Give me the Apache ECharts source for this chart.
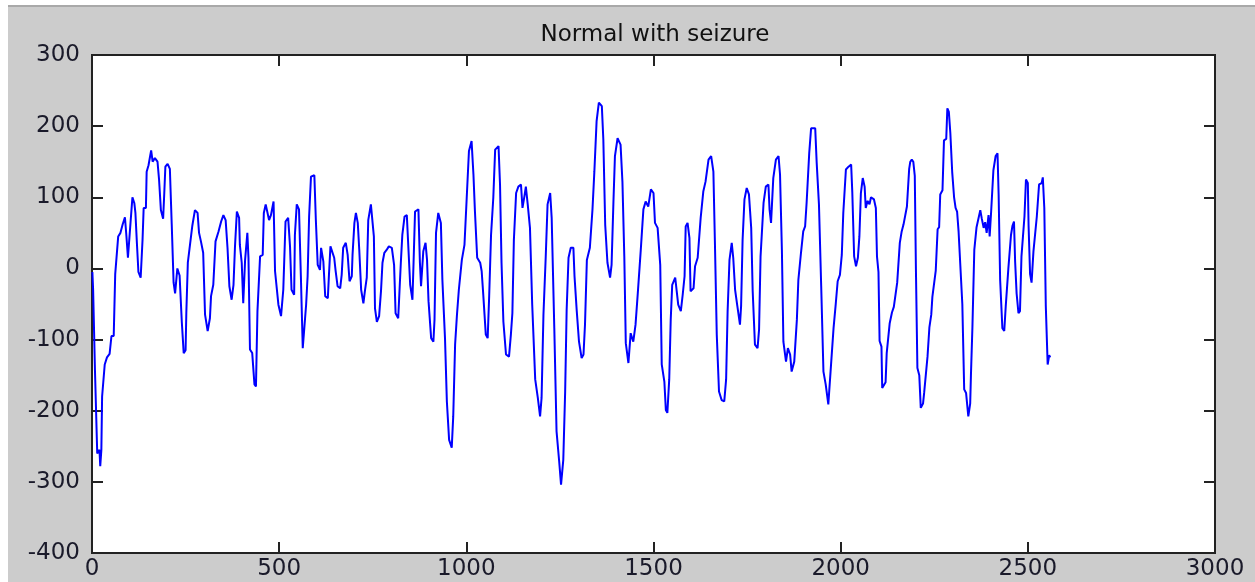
<!DOCTYPE html>
<html>
<head>
<meta charset="utf-8">
<script src="https://cdn.jsdelivr.net/npm/echarts@6/dist/echarts.min.js"></script>
<style>
html,body{margin:0;padding:0;background:#fff;}
#chart{width:1255px;height:582px;}
</style>
</head>
<body>
<div id="chart"></div>
<script>
// Sample positions (x) and amplitudes (y)
var sampleIndex = [1,3,8,12,14,20,22,25,27,32,34,40,47,52,58,62,67,70,76,82,88,92,96,100,103,108,113,116,120,124,130,135,138,144,146,151,155,158,162,168,175,179,184,190,193,196,202,208,213,218,222,228,234,240,245,250,252,256,268,275,282,286,291,297,302,309,315,318,324,330,338,345,351,357,362,367,373,378,382,387,393,395,400,404,409,415,418,422,428,434,438,442,449,456,459,464,469,473,478,485,489,498,505,511,517,524,529,533,540,542,547,553,558,563,567,572,576,580,585,594,598,603,609,612,618,623,630,633,637,642,647,651,656,663,667,671,678,683,688,694,696,701,705,710,714,719,725,729,734,738,745,749,753,756,761,767,772,776,781,787,793,801,807,811,818,825,829,835,841,845,850,856,859,863,872,876,879,885,891,895,899,906,912,915,919,925,932,936,943,948,954,961,965,970,975,980,988,995,1001,1007,1014,1019,1023,1029,1037,1041,1045,1052,1057,1061,1066,1072,1077,1086,1090,1094,1099,1106,1114,1119,1123,1127,1133,1139,1146,1150,1155,1159,1164,1170,1176,1184,1191,1197,1201,1206,1212,1217,1224,1228,1235,1241,1248,1253,1259,1264,1268,1273,1279,1286,1289,1295,1301,1308,1313,1317,1322,1330,1337,1342,1348,1354,1362,1366,1371,1377,1384,1388,1393,1397,1404,1412,1417,1422,1426,1433,1439,1446,1452,1458,1466,1473,1479,1486,1493,1500,1504,1511,1518,1522,1529,1533,1537,1542,1546,1550,1558,1562,1566,1573,1578,1583,1586,1591,1596,1599,1607,1611,1618,1626,1633,1639,1647,1654,1660,1664,1669,1675,1682,1689,1694,1698,1703,1709,1713,1718,1724,1731,1734,1738,1743,1749,1755,1761,1765,1771,1778,1782,1786,1794,1800,1807,1810,1814,1820,1827,1834,1838,1843,1847,1854,1859,1865,1869,1876,1883,1887,1894,1900,1905,1909,1916,1921,1932,1936,1942,1948,1954,1960,1967,1973,1981,1987,1992,1998,2003,2007,2014,2021,2028,2031,2036,2041,2046,2050,2054,2059,2064,2067,2072,2077,2081,2085,2089,2094,2097,2101,2104,2109,2111,2116,2120,2123,2127,2131,2137,2142,2147,2151,2155,2158,2163,2168,2173,2177,2180,2183,2186,2190,2194,2198,2201,2205,2210,2214,2220,2223,2228,2232,2237,2242,2245,2250,2254,2259,2263,2266,2272,2276,2282,2285,2289,2293,2298,2303,2307,2311,2315,2320,2325,2330,2335,2341,2346,2348,2352,2357,2363,2368,2373,2377,2382,2386,2390,2395,2398,2402,2408,2414,2419,2422,2426,2432,2437,2441,2446,2448,2455,2459,2463,2466,2470,2475,2479,2483,2491,2495,2500,2502,2506,2510,2515,2520,2524,2530,2537,2540,2544,2548,2553,2557,2560];
var amplitude = [-5,-30,-145,-145,-260,-255,-278,-255,-180,-180,-135,-125,-120,-95,-95,-8,-8,45,50,62,72,45,15,15,65,100,92,78,35,-5,-13,40,85,85,136,145,157,166,150,155,150,126,82,70,105,143,147,140,62,-20,-35,0,-10,-76,-119,-115,-62,8,60,82,78,50,38,22,-65,-88,-70,-39,-23,38,52,66,75,68,29,-25,-44,-23,31,80,71,33,8,-49,12,50,15,-114,-119,-163,-166,-60,17,19,78,90,92,68,75,94,-4,-51,-67,-30,66,71,31,-30,-37,47,90,83,-11,-112,-110,-51,-11,73,129,131,68,5,-2,29,10,-39,-42,-9,31,29,15,-4,-25,-28,-9,29,36,19,-18,-11,19,64,78,64,26,-30,-49,-32,-13,68,90,90,45,-56,-75,-67,-32,8,22,26,31,29,5,-63,-70,8,47,73,75,31,-23,-44,8,80,83,8,-25,24,36,12,-46,-98,-103,-72,50,78,64,-16,-98,-187,-241,-252,-208,-107,-65,-30,12,33,99,165,179,132,80,15,8,-4,-35,-93,-98,-39,47,99,167,172,118,8,-75,-121,-124,-93,-63,40,106,115,118,85,101,115,90,57,-51,-156,-182,-208,-182,-65,15,90,106,71,-84,-229,-271,-304,-269,-173,-58,15,29,29,-11,-60,-103,-126,-121,-79,12,29,83,136,207,233,228,181,61,8,-13,5,94,158,183,174,122,17,-105,-133,-91,-103,-79,-35,26,83,94,87,111,106,64,57,5,-135,-159,-199,-203,-156,-72,-23,-13,-32,-51,-60,-37,-11,59,64,43,-32,-28,3,15,71,108,122,153,158,136,38,-93,-173,-185,-187,-156,-60,12,36,15,-30,-53,-79,-53,40,97,113,104,57,-32,-107,-112,-86,17,92,115,118,83,64,127,153,158,132,26,-103,-131,-112,-121,-145,-131,-72,-16,22,52,59,92,162,197,197,148,90,-25,-145,-163,-191,-145,-84,-49,-18,-9,19,78,139,143,146,108,17,3,15,45,106,127,115,85,95,90,100,102,97,85,17,-5,-102,-110,-168,-170,-160,-119,-120,-77,-62,-54,-35,-20,-20,36,52,62,60,87,87,140,150,153,150,130,0,-140,-150,-196,-190,-175,-175,-124,-83,-65,-40,-40,-3,55,58,104,110,180,182,225,220,190,135,100,85,80,52,52,-50,-170,-175,-208,-190,-150,-82,26,58,58,82,70,57,65,50,75,45,80,138,158,162,104,-16,-84,-88,-53,-53,0,47,60,66,10,-35,-63,-60,17,73,125,120,60,-8,-20,24,24,73,118,120,128,85,-53,-135,-122,-125];
var xTicks = [0, 500, 1000, 1500, 2000, 2500, 3000];
var yTicks = [-400, -300, -200, -100, 0, 100, 200, 300];
var chartTitle = 'Normal with seizure';

var seriesData = sampleIndex.map(function (s, i) { return [s, amplitude[i]]; });

var chart = echarts.init(document.getElementById('chart'), null, {renderer: 'canvas'});
var labelFont = {color: '#1a1a2a', fontSize: 23, fontFamily: 'DejaVu Sans'};
var plain = function (v) { return String(v); };
function axisCommon() {
  return {
    axisLine: {show: true, onZero: false, lineStyle: {color: '#222', width: 2}},
    axisTick: {show: true, inside: true, length: 11, lineStyle: {color: '#222', width: 2}},
    splitLine: {show: false}
  };
}
var option = {
  backgroundColor: '#cccccc',
  animation: false,
  title: {
    text: chartTitle,
    left: 650, top: 19, textAlign: 'center',
    textStyle: {color: '#111', fontSize: 23, fontWeight: 'normal', fontFamily: 'DejaVu Sans'}
  },
  graphic: [
    {type: 'rect', shape: {x: 0, y: 0, width: 1255, height: 5}, style: {fill: '#ffffff'}, silent: true},
    {type: 'rect', shape: {x: 0, y: 0, width: 8, height: 582}, style: {fill: '#ffffff'}, silent: true},
    {type: 'rect', shape: {x: 8, y: 5, width: 1247, height: 2}, style: {fill: '#a9a9a9'}, silent: true}
  ],
  grid: {left: 92, top: 55, width: 1123, height: 498, show: true, backgroundColor: '#ffffff', borderColor: '#222', borderWidth: 2},
  xAxis: [
    Object.assign(axisCommon(), {
      type: 'value', position: 'bottom', min: xTicks[0], max: xTicks[xTicks.length - 1], interval: 500,
      axisLabel: Object.assign({margin: 5, formatter: plain}, labelFont)
    }),
    Object.assign(axisCommon(), {
      type: 'value', position: 'top', min: xTicks[0], max: xTicks[xTicks.length - 1], interval: 500,
      axisLabel: {show: false}
    })
  ],
  yAxis: [
    Object.assign(axisCommon(), {
      type: 'value', position: 'left', min: yTicks[0], max: yTicks[yTicks.length - 1], interval: 100,
      axisLabel: Object.assign({margin: 12, formatter: plain}, labelFont)
    }),
    Object.assign(axisCommon(), {
      type: 'value', position: 'right', min: yTicks[0], max: yTicks[yTicks.length - 1], interval: 100,
      axisLabel: {show: false}
    })
  ],
  series: [{
    type: 'line', data: seriesData, xAxisIndex: 0, yAxisIndex: 0,
    showSymbol: false, symbol: 'none',
    lineStyle: {color: '#0000ff', width: 2},
    clip: true
  }]
};
chart.setOption(option);
</script>
</body>
</html>
